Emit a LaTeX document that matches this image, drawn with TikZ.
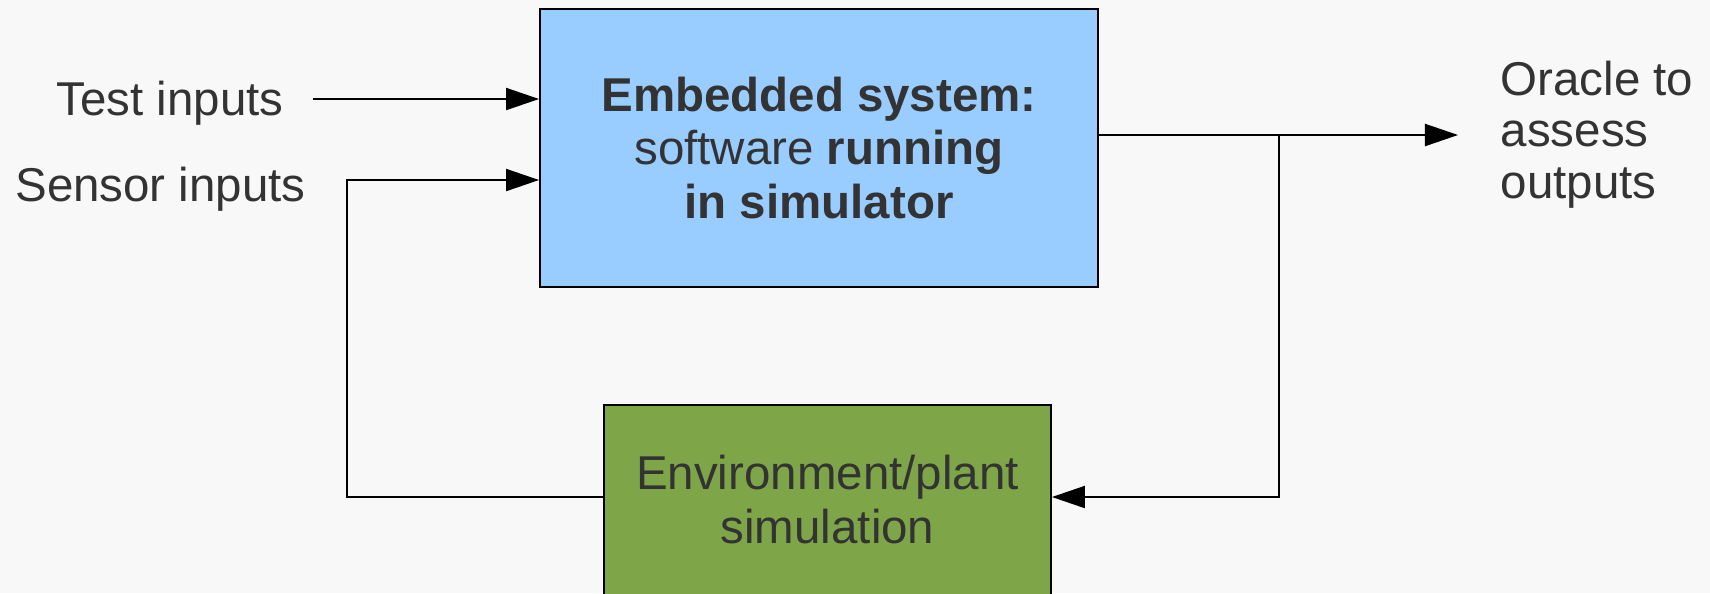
\documentclass[tikz,border=0pt]{standalone}
\usepackage{fontspec}
\setmainfont{Liberation Sans}
\usetikzlibrary{arrows.meta,calc}
\definecolor{BgClr}{HTML}{F8F8F8}
\definecolor{SysClr}{HTML}{99CCFF}
\definecolor{EnvClr}{HTML}{7EA648}
\definecolor{TxtClr}{HTML}{333333}

\begin{document}
\begin{tikzpicture}[x=0.01cm,y=-0.01cm,
  every node/.style={text=TxtClr,font=\fontsize{13.5}{15.3}\selectfont},
  blockbox/.style={draw=black,line width=0.45pt,inner sep=0pt,align=center},
  conn/.style={line width=0.45pt,draw=black,-{Triangle[length=9.4pt,width=6.3pt]}},
  link/.style={line width=0.45pt,draw=black}]

\useasboundingbox (0,0) rectangle (1710,593);
\fill[BgClr] (0,0) rectangle (1710,593);

\node[blockbox,fill=SysClr,minimum width=5.58cm,minimum height=2.78cm] (emb) at (819,148)
  {\textbf{Embedded system:}\\software \textbf{running}\\\textbf{in simulator}};
\node[blockbox,fill=EnvClr,minimum width=4.47cm,minimum height=2cm,text depth=3.1pt] (env) at (827.5,505)
  {Environment/plant\\simulation};

\node[anchor=base,inner xsep=0.29cm] (test) at (170,115) {Test inputs};
\node[anchor=base] (sensor) at (160.5,201.7) {Sensor inputs};
\node[anchor=base west,align=left,inner sep=0pt,font=\fontsize{13.5}{14.6}\selectfont] (oracle) at (1500,198)
  {Oracle to\\assess\\outputs};

\coordinate (tin) at (0,99);
\coordinate (sin) at (347,180);
\coordinate (br) at (1279,135);
\coordinate (fb) at (1279,497);
\coordinate (out) at (1458,135);

\draw[conn] (test.east |- tin) -- (emb.west |- tin);
\draw[conn] (emb.east |- br) -- (out);
\draw[conn] (br) -- (fb) -- (env.east |- fb);
\draw[conn] (env.west |- fb) -| (sin) -- (emb.west |- sin);

\end{tikzpicture}
\end{document}
